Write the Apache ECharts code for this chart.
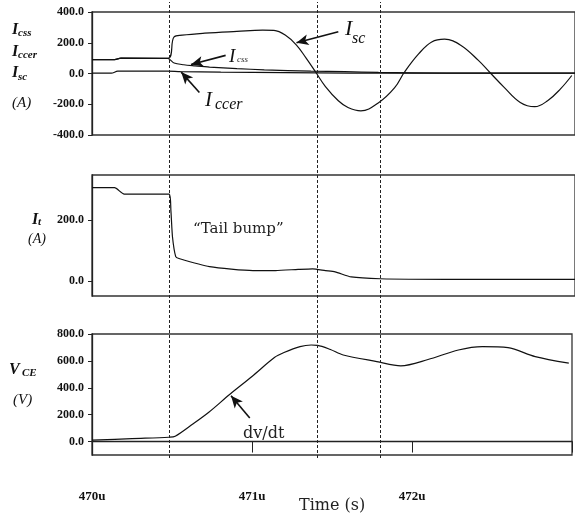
<!DOCTYPE html>
<html>
<head>
<meta charset="utf-8">
<title>Turn-off waveforms</title>
<script src="https://cdn.jsdelivr.net/npm/echarts@6/dist/echarts.min.js"></script>
<style>
  html, body { margin: 0; padding: 0; background: #fff; }
  #chart { width: 575px; height: 516px; }
</style>
</head>
<body>
<div id="chart"></div>
<script>
// time axis (microseconds)
const timeMin = 470
const timeMax = 473
const markerTimes = [470.48, 471.40, 471.79]

// panel 1: I_sc, I_css, I_ccer (A)
const iscTime = [470.00, 470.14, 470.18, 470.47, 470.51, 470.56, 470.70, 470.90, 471.06, 471.13, 471.20, 471.27, 471.33, 471.39, 471.45, 471.53, 471.59, 471.67, 471.78, 471.88, 471.94, 472.03, 472.11, 472.19, 472.29, 472.40, 472.47, 472.56, 472.66, 472.75, 472.83, 472.91, 472.98]
const iscValue = [90, 90, 100, 98, 238, 249, 262, 274, 282, 280, 250, 185, 100, 8, -85, -177, -221, -243, -190, -92, 8, 129, 205, 223, 184, 85, 8, -90, -188, -216, -177, -100, -13]
const icssTime = [470.00, 470.14, 470.18, 470.47, 470.51, 470.57, 470.64, 470.73, 470.90, 471.07, 471.36, 471.57, 471.78, 472.20, 473.00]
const icssValue = [90, 90, 100, 98, 68, 57, 50, 42, 32, 24, 15, 12, 7, 3, 2]
const icceTime = [470.00, 470.12, 470.16, 470.47, 470.55, 470.80, 471.20, 471.60, 473.00]
const icceValue = [2, 2, 15, 15, 12, 9, 6, 3, 2]
const currentTicks = [-400, -200, 0, 200, 400]

// panel 2: I_t (A)
const itTime = [470.00, 470.14, 470.20, 470.48, 470.49, 470.50, 470.52, 470.54, 470.73, 471.00, 471.14, 471.28, 471.37, 471.45, 471.51, 471.61, 471.79, 472.20, 473.00]
const itValue = [308, 308, 287, 287, 233, 145, 80, 74, 47, 34, 34, 38, 40, 34, 30, 13, 7, 5, 5]
const tailTicks = [0, 200]

// panel 3: V_CE (V)
const vceTime = [470.00, 470.25, 470.48, 470.52, 470.63, 470.73, 470.86, 471.00, 471.14, 471.20, 471.30, 471.37, 471.41, 471.49, 471.57, 471.78, 471.93, 472.10, 472.29, 472.44, 472.60, 472.77, 472.98]
const vceValue = [10, 22, 32, 39, 130, 218, 350, 484, 625, 662, 706, 718, 716, 685, 644, 595, 563, 610, 681, 706, 698, 632, 583]
const voltageTicks = [0, 200, 400, 600, 800]

const pairs = (ts, vs) => ts.map((t, i) => [t, vs[i]])
const ink = '#111'
const serif = '"Liberation Serif", "Times New Roman", serif'
const wide = '"DejaVu Serif", serif'

const curve = (ts, vs, idx, smooth, extra) => Object.assign({
  type: 'line', xAxisIndex: idx, yAxisIndex: idx,
  data: pairs(ts, vs), showSymbol: false, smooth,
  lineStyle: { color: ink, width: 1.2 }, silent: true
}, extra || {})

const arrows = (list) => ({
  silent: true, symbol: ['none', 'arrow'], symbolSize: [8, 12],
  lineStyle: { color: ink, width: 1.6, type: 'solid' }, label: { show: false },
  data: list.map(([a, b]) => [{ coord: a }, { coord: b }])
})

const frame = { show: true, borderColor: '#333', borderWidth: 1.3 }
const grids = [
  Object.assign({ left: 92, width: 486, top: 12, height: 123 }, frame),
  Object.assign({ left: 92, width: 486, top: 175, height: 121 }, frame),
  Object.assign({ left: 92, width: 486, top: 334, height: 121 }, frame),
  { left: 92, width: 486, top: 2, height: 456 }
]

const hiddenX = (idx) => ({ type: 'value', gridIndex: idx, min: timeMin, max: timeMax, show: false })
const tickLabel = { fontFamily: serif, fontWeight: 'bold', fontSize: 12, color: ink, margin: 8, formatter: (v) => v.toFixed(1) }
const yAxisFor = (idx, min, max, ticks) => ({
  type: 'value', gridIndex: idx, min, max,
  splitLine: { show: false },
  axisLine: { show: true, lineStyle: { color: '#222', width: 1.3 } },
  axisTick: { show: true, length: 4, lineStyle: { color: '#222' }, customValues: ticks },
  axisLabel: Object.assign({ customValues: ticks }, tickLabel)
})

const txt = (left, top, text, font, color) => ({
  type: 'text', left, top, silent: true,
  style: { text, font, fill: color || ink }
})

const chart = echarts.init(document.getElementById('chart'))
chart.setOption({
  animation: false,
  backgroundColor: '#fff',
  grid: grids,
  xAxis: [
    hiddenX(0), hiddenX(1),
    {
      type: 'value', gridIndex: 2, min: timeMin, max: timeMax, interval: 1, offset: 7,
      splitLine: { show: false },
      axisLine: { show: true, lineStyle: { color: '#222', width: 1.3 } },
      axisTick: { show: true, length: 11, lineStyle: { color: '#222' } },
      axisLabel: { fontFamily: serif, fontWeight: 'bold', fontSize: 13, color: ink, margin: 28,
        formatter: (v) => (v < timeMax ? v + 'u' : '') }
    },
    hiddenX(3)
  ],
  yAxis: [
    yAxisFor(0, -400, 400, currentTicks),
    yAxisFor(1, -50, 350, tailTicks),
    yAxisFor(2, -100, 800, voltageTicks),
    { type: 'value', gridIndex: 3, min: 0, max: 1, show: false }
  ],
  series: [
    curve(icceTime, icceValue, 0, 0.3),
    curve(icssTime, icssValue, 0, 0.3),
    curve(iscTime, iscValue, 0, 0.4, {
      markLine: arrows([
        [[471.53, 271], [471.27, 200]],
        [[470.83, 118], [470.615, 59]],
        [[470.667, -123], [470.554, 9]]
      ])
    }),
    curve(itTime, itValue, 1, 0.2),
    curve(vceTime, vceValue, 2, 0.3, {
      markLine: arrows([[[470.986, 176], [470.869, 340]]])
    }),
    {
      type: 'line', xAxisIndex: 3, yAxisIndex: 3, data: [[timeMin, 0.5]],
      showSymbol: false, lineStyle: { opacity: 0 }, silent: true,
      markLine: {
        silent: true, symbol: 'none', label: { show: false },
        lineStyle: { color: '#222', width: 1, type: [3, 2] },
        data: markerTimes.map((t) => ({ xAxis: t }))
      }
    }
  ],
  graphic: [
    // panel 1 axis title
    txt(12, 22, 'I', 'italic bold 16px ' + serif),
    txt(18, 28, 'css', 'italic bold 11px ' + serif),
    txt(12, 44, 'I', 'italic bold 16px ' + serif),
    txt(18, 50, 'ccer', 'italic bold 11px ' + serif),
    txt(12, 65, 'I', 'italic bold 16px ' + serif),
    txt(18, 72, 'sc', 'italic bold 11px ' + serif),
    txt(12, 96, '(A)', 'italic 15px ' + serif),
    // panel 2 axis title
    txt(32, 212, 'I', 'italic bold 16px ' + serif),
    txt(38, 217, 't', 'italic bold 11px ' + serif),
    txt(28, 232, '(A)', 'italic 14px ' + serif),
    // panel 3 axis title
    txt(9, 362, 'V', 'italic bold 16px ' + serif),
    txt(22, 368, 'CE', 'italic bold 11px ' + serif),
    txt(13, 393, '(V)', 'italic 15px ' + serif),
    // annotations
    txt(345, 18, 'I', 'italic 22px ' + serif),
    txt(352, 31, 'sc', 'italic 16px ' + serif),
    txt(229, 47, 'I', 'italic 19px ' + serif),
    txt(237, 55, 'css', 'italic 9px ' + serif, '#333'),
    txt(205, 90, 'I', 'italic 21px ' + serif),
    txt(215, 97, 'ccer', 'italic 16px ' + serif),
    txt(193, 222, '“Tail bump”', '15px ' + wide, '#222'),
    txt(243, 426, 'dv/dt', '16px ' + wide, '#222'),
    txt(299, 498, 'Time (s)', '16px ' + wide, '#222')
  ]
})
</script>
</body>
</html>
